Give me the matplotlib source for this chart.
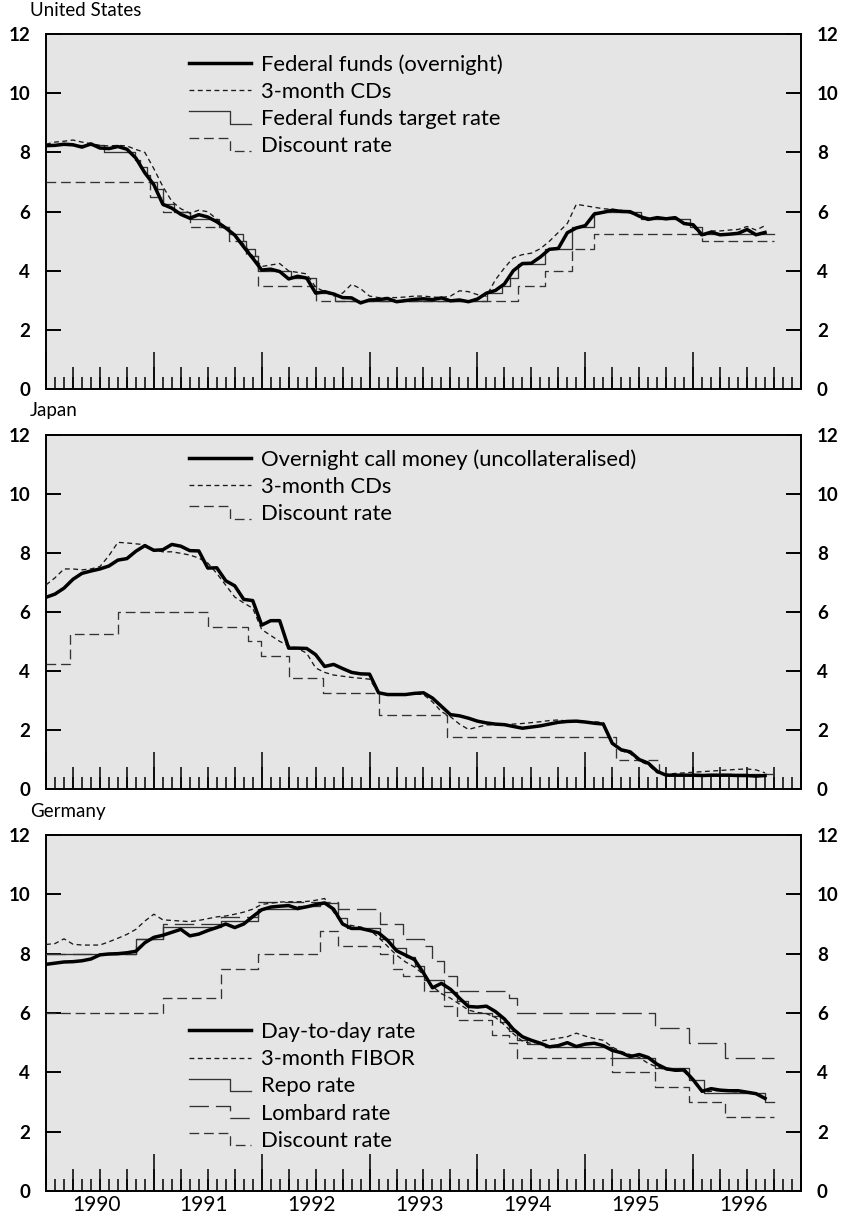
import numpy as np
import matplotlib
matplotlib.use("Agg")
import matplotlib.pyplot as plt
from matplotlib.lines import Line2D
from matplotlib.legend_handler import HandlerLine2D

plt.rcParams['font.family'] = ['Lato', 'DejaVu Sans']
plt.rcParams['lines.scale_dashes'] = False

# monthly values, first point = January 1990
us_fed_funds = [
    8.23, 8.24, 8.28, 8.26, 8.18, 8.29, 8.15, 8.13, 8.20, 8.11, 7.81, 7.31,
    6.91, 6.25, 6.12, 5.91, 5.78, 5.90, 5.82, 5.66, 5.45, 5.21, 4.81, 4.43,
    4.03, 4.06, 3.98, 3.73, 3.82, 3.76, 3.25, 3.30, 3.22, 3.10, 3.09, 2.92,
    3.02, 3.03, 3.07, 2.96, 3.00, 3.04, 3.06, 3.03, 3.09, 2.99, 3.02, 2.96,
    3.05, 3.25, 3.34, 3.56, 4.01, 4.25, 4.26, 4.47, 4.73, 4.76, 5.29, 5.45,
    5.53, 5.92, 5.98, 6.05, 6.01, 6.00, 5.85, 5.74, 5.80, 5.76, 5.80, 5.60,
    5.56, 5.22, 5.31, 5.22, 5.24, 5.27, 5.40, 5.22, 5.30]
us_cds = [
    8.28, 8.35, 8.38, 8.42, 8.35, 8.30, 8.24, 8.22, 8.24, 8.22, 8.10, 8.00,
    7.45, 6.85, 6.35, 6.10, 5.95, 6.05, 6.00, 5.75, 5.45, 5.20, 4.90, 4.50,
    4.15, 4.20, 4.25, 4.00, 3.95, 3.90, 3.45, 3.30, 3.15, 3.25, 3.55, 3.40,
    3.15, 3.10, 3.10, 3.10, 3.12, 3.15, 3.15, 3.12, 3.10, 3.15, 3.33, 3.30,
    3.20, 3.15, 3.70, 4.10, 4.45, 4.55, 4.60, 4.75, 5.00, 5.30, 5.60, 6.25,
    6.20, 6.15, 6.10, 6.08, 6.05, 5.95, 5.85, 5.80, 5.78, 5.78, 5.78, 5.65,
    5.50, 5.15, 5.35, 5.35, 5.38, 5.40, 5.50, 5.38, 5.53]
# official rates: month of change (0 = Jan 1990) and new level
us_target_m = [0, 6.4, 9.93, 10.45, 11.2, 11.6, 12.3, 13.0, 14.25, 15.97,
               19.2, 20.4, 21.97, 22.2, 23.2, 23.63, 27.3, 30.05, 32.1,
               49.1, 50.7, 51.6, 52.55, 55.5, 58.5, 61.0, 66.2, 71.6, 73.0]
us_target_r = [8.25, 8.0, 7.75, 7.5, 7.25, 7.0, 6.75, 6.25, 6.0, 5.75,
               5.5, 5.25, 5.0, 4.75, 4.5, 4.0, 3.75, 3.25, 3.0,
               3.25, 3.5, 3.75, 4.25, 4.75, 5.5, 6.0, 5.75, 5.5, 5.25]
us_disc_m = [0, 11.6, 13.0, 15.97, 20.4, 22.2, 23.63, 30.05, 52.55, 55.5, 58.5, 61.0, 73.0]
us_disc_r = [7.0, 6.5, 6.0, 5.5, 5.0, 4.5, 3.5, 3.0, 3.5, 4.0, 4.75, 5.25, 5.0]

jp_call = [
    6.49, 6.60, 6.80, 7.10, 7.30, 7.38, 7.45, 7.55, 7.75, 7.80, 8.05, 8.24,
    8.08, 8.10, 8.28, 8.22, 8.07, 8.06, 7.48, 7.49, 7.05, 6.88, 6.42, 6.38,
    5.55, 5.70, 5.70, 4.77, 4.77, 4.76, 4.55, 4.15, 4.22, 4.08, 3.95, 3.90,
    3.89, 3.26, 3.20, 3.20, 3.20, 3.24, 3.26, 3.08, 2.80, 2.52, 2.48, 2.40,
    2.30, 2.24, 2.20, 2.18, 2.12, 2.06, 2.10, 2.14, 2.20, 2.26, 2.29, 2.30,
    2.27, 2.23, 2.20, 1.55, 1.33, 1.26, 1.00, 0.88, 0.60, 0.47, 0.47, 0.47,
    0.47, 0.46, 0.47, 0.47, 0.47, 0.46, 0.46, 0.44, 0.46]
jp_cds = [
    6.91, 7.15, 7.45, 7.45, 7.42, 7.45, 7.53, 7.90, 8.35, 8.33, 8.30, 8.27,
    8.10, 8.03, 8.03, 7.98, 7.92, 7.82, 7.65, 7.30, 6.90, 6.50, 6.30, 6.12,
    5.40, 5.20, 5.00, 4.85, 4.76, 4.60, 4.10, 3.95, 3.86, 3.82, 3.78, 3.75,
    3.72, 3.26, 3.20, 3.20, 3.20, 3.22, 3.20, 2.95, 2.62, 2.45, 2.20, 2.02,
    2.10, 2.17, 2.18, 2.18, 2.20, 2.22, 2.25, 2.28, 2.32, 2.34, 2.30, 2.30,
    2.28, 2.28, 2.25, 1.60, 1.30, 1.20, 0.95, 0.82, 0.55, 0.50, 0.53, 0.55,
    0.57, 0.59, 0.61, 0.63, 0.65, 0.67, 0.68, 0.65, 0.55]
jp_disc_m = [0, 2.63, 7.97, 18.0, 22.45, 23.97, 27.0, 30.85, 37.1, 44.67, 63.45, 68.25]
jp_disc_r = [4.25, 5.25, 6.0, 5.5, 5.0, 4.5, 3.75, 3.25, 2.5, 1.75, 1.0, 0.5]

de_daytoday = [
    7.64, 7.68, 7.72, 7.73, 7.76, 7.82, 7.96, 7.99, 8.00, 8.03, 8.08, 8.37,
    8.55, 8.62, 8.72, 8.82, 8.60, 8.66, 8.78, 8.88, 9.00, 8.88, 9.00, 9.25,
    9.48, 9.57, 9.60, 9.62, 9.52, 9.58, 9.65, 9.71, 9.50, 9.00, 8.85, 8.85,
    8.78, 8.70, 8.45, 8.10, 7.95, 7.80, 7.35, 6.85, 7.00, 6.80, 6.50, 6.22,
    6.20, 6.23, 6.05, 5.80, 5.45, 5.20, 5.08, 4.98, 4.86, 4.90, 5.00, 4.87,
    4.95, 4.98, 4.90, 4.74, 4.66, 4.53, 4.60, 4.50, 4.27, 4.12, 4.07, 4.08,
    3.75, 3.36, 3.45, 3.40, 3.38, 3.38, 3.33, 3.28, 3.12]
de_fibor = [
    8.31, 8.34, 8.50, 8.32, 8.29, 8.29, 8.29, 8.40, 8.52, 8.65, 8.82, 9.10,
    9.33, 9.14, 9.12, 9.10, 9.08, 9.12, 9.18, 9.24, 9.27, 9.33, 9.40, 9.50,
    9.66, 9.70, 9.74, 9.75, 9.75, 9.76, 9.80, 9.86, 9.40, 9.00, 8.95, 8.90,
    8.80, 8.55, 8.25, 7.95, 7.72, 7.55, 7.30, 6.90, 6.65, 6.50, 6.30, 6.10,
    6.02, 5.98, 5.85, 5.60, 5.30, 5.05, 4.97, 5.05, 5.10, 5.15, 5.20, 5.32,
    5.22, 5.14, 5.08, 4.85, 4.70, 4.60, 4.50, 4.30, 4.18, 4.08, 4.05, 4.02,
    3.70, 3.34, 3.36, 3.39, 3.36, 3.34, 3.34, 3.30, 3.12]
de_repo_m = [0, 10.0, 13.0, 19.5, 23.6, 28.0, 30.5, 32.5, 33.5, 37.15,
             38.6, 40.0, 41.0, 42.05, 44.3, 45.7, 47.0, 49.6, 50.5, 51.5,
             52.4, 53.5, 55.5, 63.0, 67.8, 71.5, 73.2, 80.0]
de_repo_r = [8.0, 8.5, 8.9, 9.1, 9.5, 9.6, 9.7, 9.2, 8.85, 8.5,
             8.2, 7.9, 7.6, 7.1, 6.7, 6.4, 6.0, 5.9, 5.7, 5.4,
             5.1, 4.95, 4.85, 4.5, 4.15, 3.75, 3.3, 3.0]
de_lomb_m = [0, 10.05, 13.0, 19.5, 23.6, 32.5, 37.15, 39.7, 42.05, 42.97,
             44.3, 45.7, 51.5, 52.4, 67.8, 71.5, 75.6]
de_lomb_r = [8.0, 8.5, 9.0, 9.25, 9.75, 9.5, 9.0, 8.5, 8.25, 7.75,
             7.25, 6.75, 6.5, 6.0, 5.5, 5.0, 4.5]
de_disc_m = [0, 13.0, 19.5, 23.6, 30.5, 32.5, 37.15, 38.6, 39.7, 42.05,
             44.3, 45.7, 49.6, 51.5, 52.4, 63.0, 67.8, 71.5, 75.6]
de_disc_r = [6.0, 6.5, 7.5, 8.0, 8.75, 8.25, 8.0, 7.5, 7.25, 6.75,
             6.25, 5.75, 5.25, 5.0, 4.5, 4.0, 3.5, 3.0, 2.5]

step_end = 81.0
year_labels = ['1990', '1991', '1992', '1993', '1994', '1995', '1996']

W, H = 846, 1219
BG = '#e5e5e5'
FS = 13.5      # tick labels
FS_LEG = 15.8  # legend text
FS_YR = 15.0   # year labels
THICK = dict(color='black', lw=2.5, solid_joinstyle='round', zorder=5)
THIN_DASH = dict(color='#1a1a1a', lw=0.95, ls=(0, (3.5, 2.5)), zorder=4)
STEP_SOLID = dict(color='#333333', lw=0.95, drawstyle='steps-post', zorder=3)
STEP_DISC = dict(color='#333333', lw=0.95, ls=(0, (7, 3.5)), drawstyle='steps-post', zorder=3)
STEP_LOMB = dict(color='#333333', lw=0.95, ls=(0, (14, 5)), drawstyle='steps-post', zorder=3)


class StepHandler(HandlerLine2D):
    # legend key drawn as a small step down, like the official-rate lines
    def create_artists(self, legend, orig_handle, xdescent, ydescent,
                       width, height, fontsize, trans):
        x0 = -xdescent
        yc = height / 2 - ydescent
        h = 0.28 * fontsize
        xs = [x0, x0 + width * 0.66, x0 + width * 0.66, x0 + width]
        ys = [yc + h, yc + h, yc - h, yc - h]
        line = Line2D(xs, ys)
        self.update_prop(line, orig_handle, legend)
        line.set_drawstyle('default')
        line.set_transform(trans)
        return [line]


def monthly_x(vals):
    return 1990 + np.arange(len(vals)) / 12.0


def step_xy(months, rates):
    x = 1990 + np.array(list(months) + [step_end]) / 12.0
    y = list(rates) + [rates[-1]]
    return x, y


fig = plt.figure(figsize=(W / 100, H / 100), dpi=100)


def make_panel(top, bottom, title, bottom_labels):
    ax = fig.add_axes([46 / W, 1 - bottom / H, 755 / W, (bottom - top) / H])
    ax.set_facecolor(BG)
    ax.set_xlim(1990, 1997)
    ax.set_ylim(0, 12)
    for s in ax.spines.values():
        s.set_linewidth(1.4)
    ax.set_yticks(range(0, 13, 2))
    ax.tick_params(axis='y', which='major', direction='in', length=10.8, width=1.4,
                   left=True, right=True, labelleft=True, labelright=True,
                   pad=11.5, labelsize=FS)
    for t in ax.yaxis.get_major_ticks():
        t.label1.set_fontweight('bold')
        t.label2.set_fontweight('bold')
    # years tall, quarters medium, months short
    ax.set_xticks(np.arange(1990, 1998))
    ax.set_xticks(1990 + np.arange(0, 85) / 12.0, minor=True)
    ax.tick_params(axis='x', which='major', direction='in', length=26.6, width=1.1,
                   labelbottom=False)
    ax.tick_params(axis='x', which='minor', direction='in', length=8.6, width=1.1)
    q = ax.secondary_xaxis('bottom')
    q.set_xticks(1990 + np.arange(0, 29) / 4.0)
    q.tick_params(direction='in', length=15.8, width=1.1, labelbottom=False)
    for s in q.spines.values():
        s.set_visible(False)
    if bottom_labels:
        lab = ax.secondary_xaxis('bottom')
        lab.set_xticks(np.arange(1990, 1997) + 0.465, labels=year_labels)
        lab.tick_params(length=0, pad=3, labelsize=FS_YR)
        for s in lab.spines.values():
            s.set_visible(False)
    fig.text(30 / W, 1 - (top - 24) / H, title, ha='left', va='center', fontsize=FS)
    return ax


def add_legend(ax, handles, labels, top, steps):
    hmap = {h: StepHandler() for h in steps}
    ax.legend(handles, labels, loc='upper left',
              bbox_to_anchor=(189 / W, 1 - top / H), bbox_transform=fig.transFigure,
              frameon=False, fontsize=FS_LEG, handlelength=2.82, handletextpad=0.46,
              labelspacing=0.33, borderpad=0, borderaxespad=0, handler_map=hmap)


# United States
ax1 = make_panel(34, 389.4, 'United States', False)
l_tgt, = ax1.plot(*step_xy(us_target_m, us_target_r), **STEP_SOLID)
l_dsc, = ax1.plot(*step_xy(us_disc_m, us_disc_r), **STEP_DISC)
l_cds, = ax1.plot(monthly_x(us_cds), us_cds, **THIN_DASH)
l_ff, = ax1.plot(monthly_x(us_fed_funds), us_fed_funds, **THICK)
add_legend(ax1, [l_ff, l_cds, l_tgt, l_dsc],
           ['Federal funds (overnight)', '3-month CDs', 'Federal funds target rate',
            'Discount rate'], 54, [l_tgt, l_dsc])

# Japan
ax2 = make_panel(434.5, 789.1, 'Japan', False)
j_dsc, = ax2.plot(*step_xy(jp_disc_m, jp_disc_r), **STEP_DISC)
j_cds, = ax2.plot(monthly_x(jp_cds), jp_cds, **THIN_DASH)
j_call, = ax2.plot(monthly_x(jp_call), jp_call, **THICK)
add_legend(ax2, [j_call, j_cds, j_dsc],
           ['Overnight call money (uncollateralised)', '3-month CDs', 'Discount rate'],
           449, [j_dsc])

# Germany
ax3 = make_panel(835, 1191, 'Germany', True)
g_repo, = ax3.plot(*step_xy(de_repo_m, de_repo_r), **STEP_SOLID)
g_lomb, = ax3.plot(*step_xy(de_lomb_m, de_lomb_r), **STEP_LOMB)
g_dsc, = ax3.plot(*step_xy(de_disc_m, de_disc_r), **STEP_DISC)
g_fib, = ax3.plot(monthly_x(de_fibor), de_fibor, **THIN_DASH)
g_day, = ax3.plot(monthly_x(de_daytoday), de_daytoday, **THICK)
add_legend(ax3, [g_day, g_fib, g_repo, g_lomb, g_dsc],
           ['Day-to-day rate', '3-month FIBOR', 'Repo rate', 'Lombard rate',
            'Discount rate'], 1022, [g_repo, g_lomb, g_dsc])

fig.savefig('out.png', dpi=100)
